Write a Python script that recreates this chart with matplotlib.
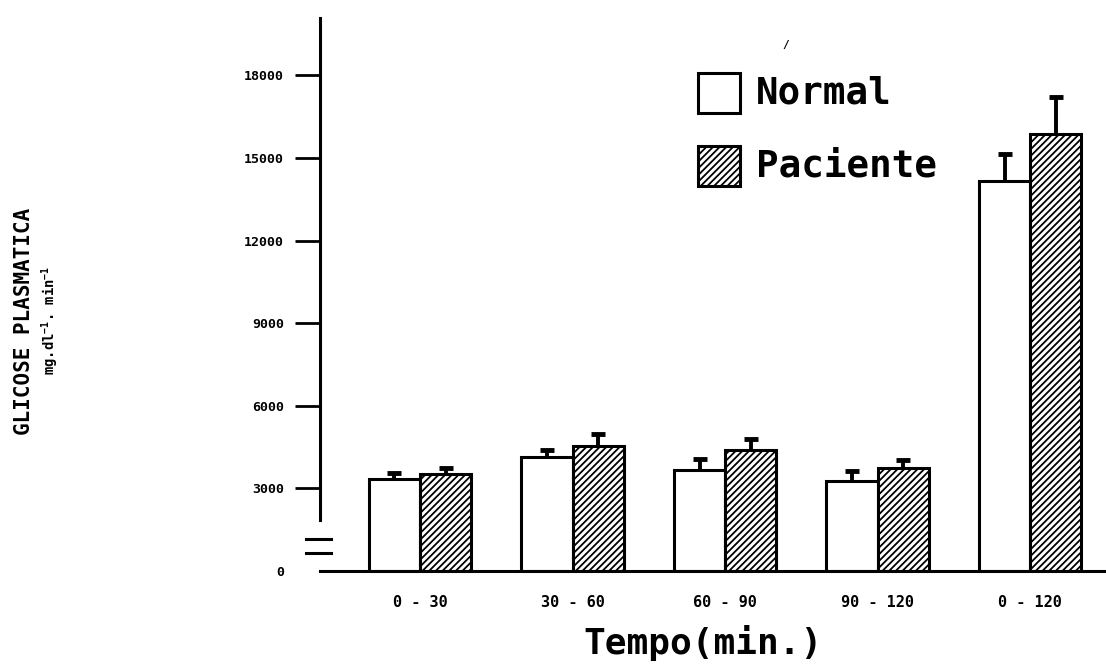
import numpy as np
import matplotlib
matplotlib.use("Agg")
import matplotlib.pyplot as plt
from matplotlib.patches import Rectangle
from matplotlib.transforms import blended_transform_factory

# data
periods = ["0 - 30", "30 - 60", "60 - 90", "90 - 120", "0 - 120"]
normal = [3340, 4140, 3670, 3270, 14170]
normal_err = [220, 250, 400, 360, 980]
paciente = [3520, 4540, 4400, 3740, 15870]
paciente_err = [220, 430, 400, 290, 1350]
yticks = [0, 3000, 6000, 9000, 12000, 15000, 18000]

plt.rcParams['font.family'] = ['DejaVu Sans Mono']
plt.rcParams['font.weight'] = 'bold'
plt.rcParams['hatch.linewidth'] = 1.3
plt.rcParams['mathtext.default'] = 'regular'

W, H = 1106, 666
fig = plt.figure(figsize=(W / 100, H / 100), dpi=100)
ax = fig.add_axes([320 / W, 95 / H, 786 / W, 553 / H])

x = np.arange(len(periods))
w = 0.335
ax.bar(x - w / 2, normal, w, color='white', edgecolor='black', linewidth=2.2,
       zorder=2)
ax.bar(x + w / 2, paciente, w, color='white', edgecolor='black', linewidth=2.2,
       hatch='/////', zorder=2)
# error bars sit behind the bars so only the upper half shows
ax.errorbar(x - w / 2, normal, yerr=normal_err, fmt='none',
            ecolor='black', elinewidth=2.8, capsize=5, capthick=3.5, zorder=1)
ax.errorbar(x + w / 2, paciente, yerr=paciente_err, fmt='none',
            ecolor='black', elinewidth=2.8, capsize=5, capthick=3.5, zorder=1)

ax.set_xlim(-0.656, 4.498)
ax.set_ylim(0, 20085)
ax.set_xticks(x)
ax.set_xticklabels(periods, fontsize=11, fontweight='bold')
ax.tick_params(axis='x', length=0, pad=17)
ax.set_yticks(yticks)
ax.set_yticklabels([str(v) for v in yticks], fontsize=9.5, fontweight='bold')
ax.tick_params(axis='y', length=18, width=2, pad=8)
ax.yaxis.get_major_ticks()[0].tick1line.set_visible(False)

for s in ['top', 'right']:
    ax.spines[s].set_visible(False)
ax.spines['left'].set_linewidth(2.2)
ax.spines['left'].set_bounds(1850, 20085)
ax.spines['bottom'].set_linewidth(2.2)

# axis break marks
tr = blended_transform_factory(ax.transAxes, ax.transData)
for yb in [1162, 654]:
    ax.plot([-0.0178, 0.014], [yb, yb], color='black', lw=2.2,
            transform=tr, clip_on=False)

ax.set_xlabel("Tempo(min.)", fontsize=26, fontweight='bold', va='center')
ax.xaxis.set_label_coords(0.487, -0.13)

fig.text(24 / W, 1 - 321 / H, "GLICOSE PLASMATICA", rotation=90,
         ha='center', va='center', fontsize=15, fontweight='bold')
fig.text(50 / W, 1 - 320 / H, r"mg.dl$^{-1}$. min$^{-1}$", rotation=90,
         ha='center', va='center', fontsize=10, fontweight='bold')

# legend
fig.add_artist(Rectangle((698 / W, 1 - 113 / H), 42 / W, 40 / H,
                         transform=fig.transFigure, facecolor='white',
                         edgecolor='black', linewidth=2.2))
fig.add_artist(Rectangle((698 / W, 1 - 186 / H), 42 / W, 40 / H,
                         transform=fig.transFigure, facecolor='white',
                         edgecolor='black', linewidth=2.2, hatch='/////'))
fig.text(756 / W, 1 - 93 / H, "Normal", ha='left', va='center',
         fontsize=27, fontweight='bold')
fig.text(756 / W, 1 - 166 / H, "Paciente", ha='left', va='center',
         fontsize=27, fontweight='bold')

fig.text(786 / W, 1 - 45 / H, "/", ha='center', va='center', fontsize=8)

fig.savefig("out.png", dpi=100)
